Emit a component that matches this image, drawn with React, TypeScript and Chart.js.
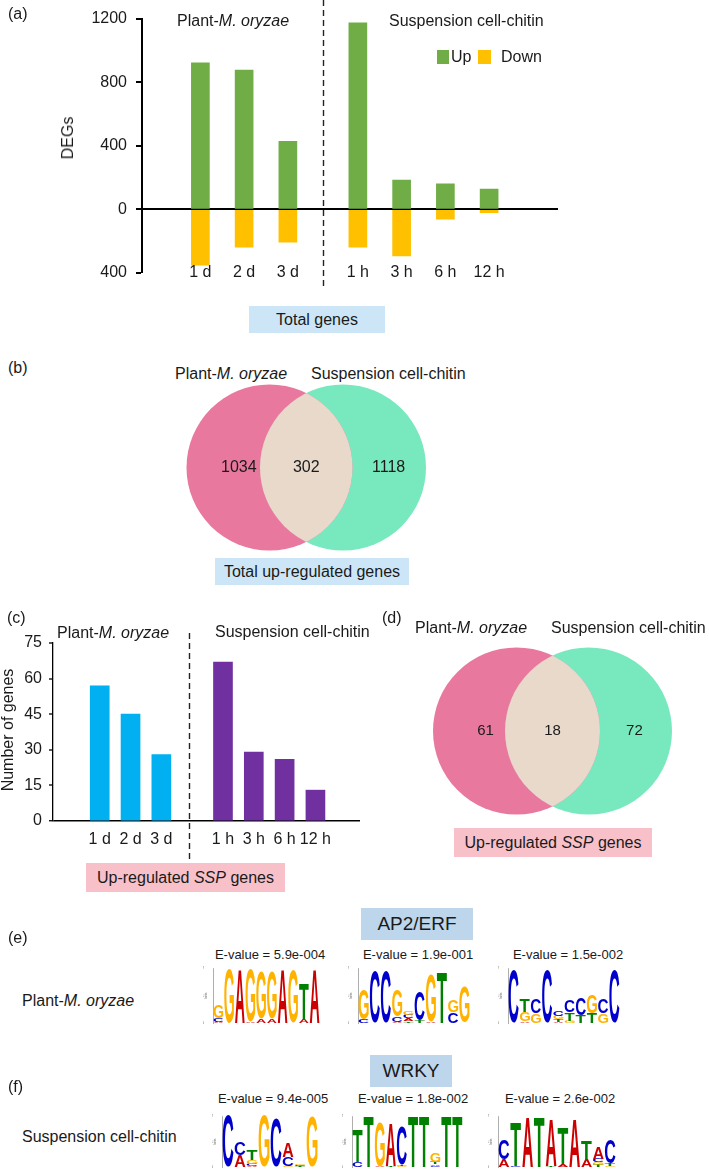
import React, { useEffect, useRef } from "react";
import { Chart, registerables } from "chart.js";

Chart.register(...registerables);

const FONT = "'Liberation Sans', Arial, Helvetica, sans-serif";
const INK = "#1a1a1a";

// ---------------- DATA ----------------
// (a) total DEGs
const degCategories = ["1 d", "2 d", "3 d", "1 h", "3 h", "6 h", "12 h"];
const degGroups = [0, 0, 0, 1, 1, 1, 1];
const degUp = [922, 877, 428, 1174, 185, 161, 128];
const degDown = [-350, -237, -206, -237, -292, -62, -20];
const degTickValues = [-400, 0, 400, 800, 1200];

// (c) up-regulated SSP genes
const sspCategories = ["1 d", "2 d", "3 d", "1 h", "3 h", "6 h", "12 h"];
const sspGroups = [0, 0, 0, 1, 1, 1, 1];
const sspCounts = [57, 45, 28, 67, 29, 26, 13];
const sspTickValues = [0, 15, 30, 45, 60, 75];

// (b), (d) Venn counts: [only set 1, shared, only set 2]
const vennTotalUp = [1034, 302, 1118];
const vennSSP = [61, 18, 72];

// (e), (f) motif E-values
const eValuesAP2 = ["5.9e-004", "1.9e-001", "1.5e-002"];
const eValuesWRKY = ["9.4e-005", "1.8e-002", "2.6e-002"];

// motif logos: per position, [letter, bits]
type Col = [string, number][];
const logoE1: Col[] = [
  [["G", 0.48], ["C", 0.13], ["A", 0.05]],
  [["G", 1.95]],
  [["A", 1.95]],
  [["G", 1.9], ["A", 0.04]],
  [["G", 1.72], ["A", 0.15]],
  [["G", 1.72], ["A", 0.15]],
  [["A", 1.95]],
  [["G", 1.9]],
  [["T", 1.3], ["A", 0.12]],
  [["A", 1.95]],
];
const logoE2: Col[] = [
  [["G", 1.1], ["C", 0.12]],
  [["C", 1.85]],
  [["C", 1.85]],
  [["G", 0.95], ["C", 0.18], ["A", 0.05]],
  [["G", 0.14], ["C", 0.12], ["A", 0.11], ["T", 0.06]],
  [["C", 1.05], ["T", 0.1]],
  [["G", 1.7], ["A", 0.04]],
  [["T", 1.85]],
  [["G", 0.45], ["C", 0.4]],
  [["G", 1.3]],
];
const logoE3: Col[] = [
  [["C", 1.9]],
  [["T", 0.45], ["G", 0.35], ["A", 0.05]],
  [["C", 0.5], ["G", 0.35]],
  [["C", 1.9]],
  [["C", 0.18], ["G", 0.12], ["T", 0.1], ["A", 0.04]],
  [["C", 0.45], ["T", 0.3], ["G", 0.08]],
  [["C", 0.6], ["T", 0.3]],
  [["G", 0.65], ["T", 0.35]],
  [["C", 0.5], ["G", 0.35]],
  [["C", 1.9]],
];
const logoF1: Col[] = [
  [["C", 2.0]],
  [["C", 0.5], ["A", 0.47]],
  [["T", 0.4], ["G", 0.17], ["C", 0.08], ["A", 0.04]],
  [["G", 2.0]],
  [["C", 1.9]],
  [["A", 0.55], ["C", 0.35], ["G", 0.05]],
  [["G", 0.05], ["C", 0.04], ["T", 0.03]],
  [["G", 1.95]],
];
const logoF2: Col[] = [
  [["T", 1.25], ["C", 0.18]],
  [["T", 1.97]],
  [["G", 1.75], ["A", 0.03]],
  [["A", 1.7], ["T", 0.03]],
  [["C", 1.5], ["T", 0.06], ["G", 0.04]],
  [["T", 1.97]],
  [["T", 1.97]],
  [["G", 0.35], ["T", 0.08], ["A", 0.06], ["C", 0.04]],
  [["T", 1.97]],
  [["T", 1.97]],
];
const logoF3: Col[] = [
  [["C", 0.75], ["A", 0.3]],
  [["T", 1.75], ["C", 0.04]],
  [["A", 1.95]],
  [["T", 1.95]],
  [["A", 1.85], ["T", 0.04]],
  [["T", 1.4], ["A", 0.1]],
  [["A", 1.9]],
  [["T", 0.72], ["A", 0.3]],
  [["A", 0.45], ["C", 0.15], ["G", 0.1], ["T", 0.08]],
  [["C", 0.95], ["T", 0.08], ["G", 0.05]],
];

// ---------------- STYLE ----------------
const GREEN = "#70ad47";
const YELLOW = "#ffc000";
const CYAN = "#00b0f0";
const PURPLE = "#7030a0";
const PINK = "#e9789f";
const MINT = "#78e9bf";
const BEIGE = "#e8d9cb";
const BLUE_BOX = "#cde6f7";
const BLUE_BOX2 = "#bdd6ec";
const PINK_BOX = "#f8c1ca";
const LETTER_COLORS: Record<string, string> = { A: "#cc0000", C: "#0000cc", G: "#ffb300", T: "#008000" };

// ---------------- PLUGINS ----------------
const catLabelsPlugin = (cats: string[], positions: number[], yPix: number, size: number) => ({
  id: "catLabels",
  afterDraw(chart: any) {
    const ctx = chart.ctx;
    const xs = chart.scales.x;
    ctx.save();
    ctx.font = `${size}px ${FONT}`;
    ctx.fillStyle = INK;
    ctx.textAlign = "center";
    ctx.textBaseline = "middle";
    cats.forEach((c, i) => ctx.fillText(c, xs.getPixelForValue(positions[i]), yPix));
    ctx.restore();
  },
});

const dashPlugin = (xVal: number, y0: number, y1: number) => ({
  id: "dashDivider",
  afterDraw(chart: any) {
    const ctx = chart.ctx;
    const x = Math.round(chart.scales.x.getPixelForValue(xVal)) + 0.5;
    ctx.save();
    ctx.strokeStyle = "#222";
    ctx.lineWidth = 1.4;
    ctx.setLineDash([6, 4]);
    ctx.beginPath();
    ctx.moveTo(x, y0);
    ctx.lineTo(x, y1);
    ctx.stroke();
    ctx.restore();
  },
});

const vennPlugin = (counts: number[], size: number) => ({
  id: "vennOverlap",
  afterDatasetsDraw(chart: any) {
    const a = chart.getDatasetMeta(0).data[0];
    const b = chart.getDatasetMeta(1).data[0];
    const ra = a.options.radius;
    const rb = b.options.radius;
    const ctx = chart.ctx;
    ctx.save();
    ctx.beginPath();
    ctx.arc(a.x, a.y, ra, 0, Math.PI * 2);
    ctx.clip();
    ctx.beginPath();
    ctx.arc(b.x, b.y, rb, 0, Math.PI * 2);
    ctx.fillStyle = BEIGE;
    ctx.fill();
    ctx.restore();
    ctx.save();
    ctx.font = `${size}px ${FONT}`;
    ctx.fillStyle = INK;
    ctx.textAlign = "center";
    ctx.textBaseline = "middle";
    ctx.fillText(String(counts[0]), a.x - 0.37 * ra, a.y);
    ctx.fillText(String(counts[1]), (a.x + b.x) / 2, a.y);
    ctx.fillText(String(counts[2]), b.x + 0.55 * rb, b.y);
    ctx.restore();
  },
});

const logoPlugin = {
  id: "logoLetters",
  afterDatasetsDraw(chart: any) {
    const ctx = chart.ctx;
    chart.data.datasets.forEach((ds: any, di: number) => {
      const meta = chart.getDatasetMeta(di);
      meta.data.forEach((el: any, i: number) => {
        const letter = ds.letters[i];
        if (!letter) return;
        const p = el.getProps(["x", "y", "base", "width"], true);
        const top = Math.min(p.y, p.base);
        const h = Math.abs(p.base - p.y);
        if (h < 0.4) return;
        ctx.save();
        ctx.font = `bold 100px ${FONT}`;
        ctx.textAlign = "left";
        ctx.textBaseline = "alphabetic";
        const m = ctx.measureText(letter);
        const gw = m.actualBoundingBoxLeft + m.actualBoundingBoxRight;
        const gh = m.actualBoundingBoxAscent + m.actualBoundingBoxDescent;
        ctx.translate(p.x - p.width / 2, top);
        ctx.scale(p.width / gw, h / gh);
        ctx.fillStyle = LETTER_COLORS[letter];
        ctx.fillText(letter, m.actualBoundingBoxLeft, m.actualBoundingBoxAscent);
        ctx.restore();
      });
    });
  },
};

// ---------------- CONFIGS ----------------
const baseOpts = {
  animation: false,
  responsive: false,
  maintainAspectRatio: false,
  events: [] as string[],
  plugins: { legend: { display: false }, tooltip: { enabled: false } },
};

function degConfig(): any {
  const pos = degCategories.map((_, i) => i + 1 + degGroups[i] * 0.6);
  return {
    type: "bar",
    data: {
      datasets: [
        { label: "Up", data: degUp.map((v, i) => ({ x: pos[i], y: v })), backgroundColor: GREEN, barThickness: 18, grouped: false, borderWidth: 0 },
        { label: "Down", data: degDown.map((v, i) => ({ x: pos[i], y: v })), backgroundColor: YELLOW, barThickness: 18, grouped: false, borderWidth: 0 },
      ],
    },
    options: {
      ...baseOpts,
      layout: { padding: { top: 12, right: 42, bottom: 27, left: 0 }, autoPadding: false },
      scales: {
        x: { type: "linear", min: 0.26, max: 8.58, display: false },
        y: {
          min: -400,
          max: 1200,
          z: 1,
          afterBuildTicks: (s: any) => { s.ticks = degTickValues.map((v) => ({ value: v })); },
          afterFit: (s: any) => { s.width = 142; },
          ticks: { callback: (v: number) => String(Math.abs(v)), font: { family: FONT, size: 16 }, color: INK, padding: 9 },
          grid: {
            color: (c: any) => (c.tick && c.tick.value === 0 ? "#000" : "rgba(0,0,0,0)"),
            lineWidth: (c: any) => (c.tick && c.tick.value === 0 ? 2 : 0),
            tickColor: "#000",
            tickWidth: 2,
            tickLength: 6,
          },
          border: { color: "#000", width: 2 },
        },
      },
    },
    plugins: [catLabelsPlugin(degCategories, pos, 273, 16), dashPlugin(3.8, 0, 290)],
  };
}

function sspConfig(): any {
  const pos = sspCategories.map((_, i) => i + 1 + sspGroups[i]);
  return {
    type: "bar",
    data: {
      datasets: [
        {
          data: sspCounts.map((v, i) => ({ x: pos[i], y: v })),
          backgroundColor: sspGroups.map((g) => (g ? PURPLE : CYAN)),
          barThickness: 19,
          borderWidth: 0,
        },
      ],
    },
    options: {
      ...baseOpts,
      layout: { padding: { top: 43, right: 20, bottom: 49, left: 0 }, autoPadding: false },
      scales: {
        x: { type: "linear", min: 0.48, max: 8.45, display: false },
        y: {
          min: 0,
          max: 75,
          z: 1,
          afterBuildTicks: (s: any) => { s.ticks = sspTickValues.map((v) => ({ value: v })); },
          afterFit: (s: any) => { s.width = 53; },
          ticks: { font: { family: FONT, size: 16 }, color: INK, padding: 7 },
          grid: {
            color: (c: any) => (c.tick && c.tick.value === 0 ? "#000" : "rgba(0,0,0,0)"),
            lineWidth: (c: any) => (c.tick && c.tick.value === 0 ? 1.5 : 0),
            tickColor: "#000",
            tickWidth: 1.3,
            tickLength: 4,
          },
          border: { color: "#000", width: 1.3 },
        },
      },
    },
    plugins: [catLabelsPlugin(sspCategories, pos, 240, 16), dashPlugin(3.91, 33, 260)],
  };
}

function vennConfig(counts: number[], w: number, h: number, cxA: number, cxB: number, cy: number, r: number, size: number): any {
  return {
    type: "bubble",
    data: {
      datasets: [
        { data: [{ x: cxA, y: cy, r }], backgroundColor: PINK, borderWidth: 0 },
        { data: [{ x: cxB, y: cy, r }], backgroundColor: MINT, borderWidth: 0 },
      ],
    },
    options: {
      ...baseOpts,
      layout: { padding: 0, autoPadding: false },
      scales: {
        x: { type: "linear", min: 0, max: w, display: false },
        y: { type: "linear", min: 0, max: h, reverse: true, display: false },
      },
    },
    plugins: [vennPlugin(counts, size)],
  };
}

function logoConfig(logo: Col[]): any {
  const sorted = logo.map((p) => [...p].sort((u, v) => u[1] - v[1]));
  const depth = Math.max(...sorted.map((p) => p.length));
  const datasets: any[] = [];
  for (let k = 0; k < depth; k++) {
    datasets.push({
      data: sorted.map((p) => (p[k] ? p[k][1] : 0)),
      letters: sorted.map((p) => (p[k] ? p[k][0] : "")),
      backgroundColor: "rgba(0,0,0,0)",
      borderWidth: 0,
      categoryPercentage: 1,
      barPercentage: 0.9,
      stack: "logo",
    });
  }
  return {
    type: "bar",
    data: { labels: logo.map((_, i) => String(i + 1)), datasets },
    options: {
      ...baseOpts,
      layout: { padding: { top: 4, right: 2, bottom: 0, left: 0 }, autoPadding: false },
      scales: {
        x: {
          stacked: true,
          grid: { display: false },
          border: { display: false },
          ticks: { font: { size: 3, family: FONT }, color: "#999", padding: 1, maxRotation: 0, autoSkip: false },
          afterFit: (s: any) => { s.height = 7; },
        },
        y: {
          stacked: true,
          min: 0,
          max: 2,
          ticks: { stepSize: 1, font: { size: 4, family: FONT }, color: "#555", padding: 1 },
          grid: { display: false },
          border: { color: "#777", width: 0.6 },
          title: { display: true, text: "bits", font: { size: 4, family: FONT }, padding: 0, color: "#555" },
          afterFit: (s: any) => { s.width = 10; },
        },
      },
    },
    plugins: [logoPlugin],
  };
}

// ---------------- COMPONENTS ----------------
function ChartBox({ left, top, width, height, make }: { left: number; top: number; width: number; height: number; make: () => any }) {
  const ref = useRef<HTMLCanvasElement>(null);
  useEffect(() => {
    const chart = new Chart(ref.current as HTMLCanvasElement, make());
    return () => chart.destroy();
  }, []);
  return <canvas ref={ref} width={width} height={height} style={{ position: "absolute", left, top, width, height }} />;
}

function Txt({ x, y, size = 16, align = "left", rotate, children }: { x: number; y: number; size?: number; align?: string; rotate?: number; children: any }) {
  const tx = align === "center" ? "-50%" : align === "right" ? "-100%" : "0";
  return (
    <div
      style={{
        position: "absolute",
        left: x,
        top: y,
        transform: `translate(${tx}, -50%)${rotate ? ` rotate(${rotate}deg)` : ""}`,
        fontFamily: FONT,
        fontSize: size,
        lineHeight: 1,
        whiteSpace: "nowrap",
        color: INK,
      }}
    >
      {children}
    </div>
  );
}

function Box({ left, top, width, height, bg, size = 16, children }: { left: number; top: number; width: number; height: number; bg: string; size?: number; children: any }) {
  return (
    <div
      style={{
        position: "absolute",
        left,
        top,
        width,
        height,
        background: bg,
        display: "flex",
        alignItems: "center",
        justifyContent: "center",
        fontFamily: FONT,
        fontSize: size,
        color: INK,
        whiteSpace: "nowrap",
      }}
    >
      {children}
    </div>
  );
}

const Plant = () => (
  <>
    Plant-<i>M. oryzae</i>
  </>
);

export default function App() {
  return (
    <div style={{ position: "absolute", left: 0, top: 0, width: 709, height: 1176, background: "#fff", overflow: "hidden" }}>
      {/* (a) */}
      <ChartBox left={0} top={0} width={600} height={300} make={degConfig} />
      <Txt x={8} y={14}>(a)</Txt>
      <Txt x={177} y={21}><Plant /></Txt>
      <Txt x={389} y={21}>Suspension cell-chitin</Txt>
      <div style={{ position: "absolute", left: 437, top: 50, width: 12, height: 14, background: GREEN }} />
      <Txt x={451} y={57}>Up</Txt>
      <div style={{ position: "absolute", left: 478, top: 50, width: 13, height: 14, background: YELLOW }} />
      <Txt x={501} y={57}>Down</Txt>
      <Txt x={68} y={138} align="center" rotate={-90}>DEGs</Txt>
      <Box left={249} top={306} width={136} height={27} bg={BLUE_BOX}>Total genes</Box>

      {/* (b) */}
      <Txt x={8} y={368}>(b)</Txt>
      <Txt x={175} y={374}><Plant /></Txt>
      <Txt x={311} y={374}>Suspension cell-chitin</Txt>
      <ChartBox left={150} top={380} width={300} height={180} make={() => vennConfig(vennTotalUp, 300, 180, 119.5, 193, 87.5, 83, 16)} />
      <Box left={215} top={558} width={194} height={27} bg={BLUE_BOX}>Total up-regulated genes</Box>

      {/* (c) */}
      <ChartBox left={0} top={600} width={380} height={270} make={sspConfig} />
      <Txt x={7} y={618}>(c)</Txt>
      <Txt x={57} y={633}><Plant /></Txt>
      <Txt x={215} y={632}>Suspension cell-chitin</Txt>
      <Txt x={8} y={730} align="center" rotate={-90}>Number of genes</Txt>
      <Box left={86} top={863} width={199} height={29} bg={PINK_BOX}>
        <span>Up-regulated <i>SSP</i> genes</span>
      </Box>

      {/* (d) */}
      <Txt x={382} y={618}>(d)</Txt>
      <Txt x={415} y={628}><Plant /></Txt>
      <Txt x={551} y={628}>Suspension cell-chitin</Txt>
      <ChartBox left={420} top={640} width={270} height={180} make={() => vennConfig(vennSSP, 270, 180, 96.5, 168.5, 91, 83.5, 15)} />
      <Box left={454} top={828} width={198} height={29} bg={PINK_BOX}>
        <span>Up-regulated <i>SSP</i> genes</span>
      </Box>

      {/* (e) */}
      <Box left={361} top={908} width={112} height={32} bg={BLUE_BOX2} size={19}>AP2/ERF</Box>
      <Txt x={8} y={938}>(e)</Txt>
      <Txt x={270} y={954} size={13} align="center">E-value = {eValuesAP2[0]}</Txt>
      <Txt x={418} y={954} size={13} align="center">E-value = {eValuesAP2[1]}</Txt>
      <Txt x={568} y={954} size={13} align="center">E-value = {eValuesAP2[2]}</Txt>
      <Txt x={22} y={1001}><Plant /></Txt>
      <ChartBox left={203} top={964} width={119} height={66} make={() => logoConfig(logoE1)} />
      <ChartBox left={348} top={964} width={124} height={66} make={() => logoConfig(logoE2)} />
      <ChartBox left={498} top={964} width={124} height={66} make={() => logoConfig(logoE3)} />

      {/* (f) */}
      <Box left={370} top={1055} width={82} height={32} bg={BLUE_BOX2} size={19}>WRKY</Box>
      <Txt x={8} y={1087}>(f)</Txt>
      <Txt x={273} y={1098} size={13} align="center">E-value = {eValuesWRKY[0]}</Txt>
      <Txt x={413} y={1098} size={13} align="center">E-value = {eValuesWRKY[1]}</Txt>
      <Txt x={560} y={1098} size={13} align="center">E-value = {eValuesWRKY[2]}</Txt>
      <Txt x={22} y={1137}>Suspension cell-chitin</Txt>
      <ChartBox left={212} top={1112} width={108} height={62} make={() => logoConfig(logoF1)} />
      <ChartBox left={342} top={1112} width={123} height={62} make={() => logoConfig(logoF2)} />
      <ChartBox left={488} top={1112} width={130} height={62} make={() => logoConfig(logoF3)} />
    </div>
  );
}
